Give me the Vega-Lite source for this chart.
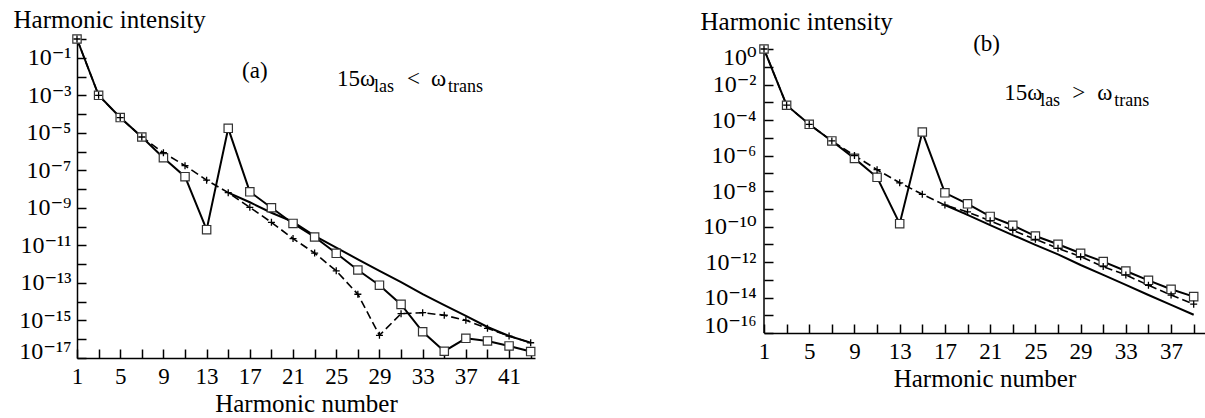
{
  "$schema": "https://vega.github.io/schema/vega-lite/v6.json",
  "padding": {"left": 13, "top": 7, "right": 0, "bottom": 0},
  "bounds": "flush",
  "spacing": 229,
  "datasets": {
    "a_sq": [
      {"n": 1, "v": 1.0}, {"n": 3, "v": 1.0e-3}, {"n": 5, "v": 6.5e-5}, {"n": 7, "v": 6.0e-6},
      {"n": 9, "v": 4.7e-7}, {"n": 11, "v": 4.6e-8}, {"n": 13, "v": 6.9e-11}, {"n": 15, "v": 1.74e-5},
      {"n": 17, "v": 7.2e-9}, {"n": 19, "v": 1.02e-9}, {"n": 21, "v": 1.48e-10}, {"n": 23, "v": 2.8e-11},
      {"n": 25, "v": 3.8e-12}, {"n": 27, "v": 4.9e-13}, {"n": 29, "v": 7.6e-14}, {"n": 31, "v": 7.2e-15},
      {"n": 33, "v": 2.5e-16}, {"n": 35, "v": 2.3e-17}, {"n": 37, "v": 1.12e-16}, {"n": 39, "v": 8.1e-17},
      {"n": 41, "v": 4.4e-17}, {"n": 43, "v": 2.2e-17}
    ],
    "a_pl": [
      {"n": 1, "v": 1.0}, {"n": 3, "v": 1.0e-3}, {"n": 5, "v": 6.5e-5}, {"n": 7, "v": 6.0e-6},
      {"n": 9, "v": 8.7e-7}, {"n": 11, "v": 1.78e-7}, {"n": 13, "v": 3.0e-8}, {"n": 15, "v": 6.5e-9},
      {"n": 17, "v": 1.07e-9}, {"n": 19, "v": 1.7e-10}, {"n": 21, "v": 2.3e-11}, {"n": 23, "v": 3.9e-12},
      {"n": 25, "v": 4.4e-13}, {"n": 27, "v": 2.5e-14}, {"n": 29, "v": 1.62e-16}, {"n": 31, "v": 2.3e-15},
      {"n": 33, "v": 2.6e-15}, {"n": 35, "v": 1.9e-15}, {"n": 37, "v": 1.02e-15}, {"n": 39, "v": 3.8e-16},
      {"n": 41, "v": 1.48e-16}, {"n": 43, "v": 6.5e-17}
    ],
    "a_sm": [
      {"n": 15, "v": 6.5e-9}, {"n": 17, "v": 2.0e-9}, {"n": 19, "v": 5.5e-10}, {"n": 21, "v": 1.78e-10},
      {"n": 23, "v": 3.2e-11}, {"n": 25, "v": 7.6e-12}, {"n": 27, "v": 1.82e-12}, {"n": 29, "v": 4.4e-13},
      {"n": 31, "v": 1.12e-13}, {"n": 33, "v": 2.5e-14}, {"n": 35, "v": 6.6e-15}, {"n": 37, "v": 1.74e-15},
      {"n": 39, "v": 4.5e-16}, {"n": 41, "v": 1.48e-16}, {"n": 43, "v": 6.6e-17}
    ],
    "a_txt": [
      {"kind": "main", "t": "(a)", "n": 16.28, "v": 8.05e-3},
      {"kind": "main", "t": "15ω", "n": 25.07, "v": 3.13e-3},
      {"kind": "sub", "t": "las", "n": 28.5, "v": 1.5e-3},
      {"kind": "main", "t": "<", "n": 31.56, "v": 3.13e-3},
      {"kind": "main", "t": "ω", "n": 33.78, "v": 3.13e-3},
      {"kind": "sub", "t": "trans", "n": 35.35, "v": 1.5e-3}
    ],
    "b_sq": [
      {"n": 1, "v": 1.0}, {"n": 3, "v": 6.8e-4}, {"n": 5, "v": 5.7e-5}, {"n": 7, "v": 6.6e-6},
      {"n": 9, "v": 6.9e-7}, {"n": 11, "v": 5.9e-8}, {"n": 13, "v": 1.44e-10}, {"n": 15, "v": 2.1e-5},
      {"n": 17, "v": 7.9e-9}, {"n": 19, "v": 1.9e-9}, {"n": 21, "v": 3.7e-10}, {"n": 23, "v": 1.17e-10},
      {"n": 25, "v": 2.9e-11}, {"n": 27, "v": 1.0e-11}, {"n": 29, "v": 3.1e-12}, {"n": 31, "v": 1.05e-12},
      {"n": 33, "v": 3.1e-13}, {"n": 35, "v": 9.3e-14}, {"n": 37, "v": 2.9e-14}, {"n": 39, "v": 1.12e-14}
    ],
    "b_pl": [
      {"n": 1, "v": 1.0}, {"n": 3, "v": 6.8e-4}, {"n": 5, "v": 5.7e-5}, {"n": 7, "v": 6.6e-6},
      {"n": 9, "v": 1.0e-6}, {"n": 11, "v": 1.58e-7}, {"n": 13, "v": 2.9e-8}, {"n": 15, "v": 6.5e-9},
      {"n": 17, "v": 1.62e-9}, {"n": 19, "v": 6.6e-10}, {"n": 21, "v": 2.1e-10}, {"n": 23, "v": 6.1e-11},
      {"n": 25, "v": 1.9e-11}, {"n": 27, "v": 5.9e-12}, {"n": 29, "v": 2.0e-12}, {"n": 31, "v": 5.5e-13},
      {"n": 33, "v": 1.86e-13}, {"n": 35, "v": 4.9e-14}, {"n": 37, "v": 1.38e-14}, {"n": 39, "v": 4.2e-15}
    ],
    "b_sm": [
      {"n": 17, "v": 1.62e-9}, {"n": 19, "v": 4.5e-10}, {"n": 21, "v": 1.2e-10}, {"n": 23, "v": 3.3e-11},
      {"n": 25, "v": 9.3e-12}, {"n": 27, "v": 2.7e-12}, {"n": 29, "v": 6.8e-13}, {"n": 31, "v": 1.9e-13},
      {"n": 33, "v": 5.2e-14}, {"n": 35, "v": 1.38e-14}, {"n": 37, "v": 3.8e-15}, {"n": 39, "v": 1.07e-15}
    ],
    "b_txt": [
      {"kind": "main", "t": "(b)", "n": 19.5, "v": 0.77},
      {"kind": "main", "t": "15ω", "n": 22.24, "v": 1.29e-3},
      {"kind": "sub", "t": "las", "n": 25.42, "v": 6.2e-4},
      {"kind": "main", "t": ">", "n": 28.26, "v": 1.29e-3},
      {"kind": "main", "t": "ω", "n": 30.47, "v": 1.29e-3},
      {"kind": "sub", "t": "trans", "n": 31.97, "v": 6.2e-4}
    ],
    "b_axis": [
      {"n": 1, "v": 1.0, "v2": 1e-16}
    ]
  },
  "hconcat": [
    {
      "width": 458,
      "height": 319,
      "encoding": {
        "x": {
          "field": "n", "type": "quantitative",
          "scale": {"domain": [1, 43.4], "nice": false, "zero": false},
          "axis": {
            "values": [1,3,5,7,9,11,13,15,17,19,21,23,25,27,29,31,33,35,37,39,41,43],
            "labelExpr": "(datum.value - 1) % 4 == 0 ? datum.label : ''",
            "labelPadding": 16, "labelFlush": false, "labelOverlap": false,
            "title": "Harmonic number", "titleY": 53, "titleBaseline": "alphabetic"
          }
        },
        "y": {
          "field": "v", "type": "quantitative",
          "scale": {"type": "log", "domain": [1e-17, 1], "nice": false},
          "axis": {
            "values": [1,1e-1,1e-2,1e-3,1e-4,1e-5,1e-6,1e-7,1e-8,1e-9,1e-10,1e-11,1e-12,1e-13,1e-14,1e-15,1e-16,1e-17],
            "labelExpr": "abs(round(log(datum.value)/LN10)) % 2 == 1 ? '10' + (datum.value < 0.5 ? '⁻' : '') + (abs(round(log(datum.value)/LN10)) >= 10 ? '¹' : '') + substring('⁰¹²³⁴⁵⁶⁷⁸⁹', abs(round(log(datum.value)/LN10)) % 10, abs(round(log(datum.value)/LN10)) % 10 + 1) : ''",
            "labelPadding": 15, "labelFlush": false, "labelOverlap": false,
            "labelFontSize": 24,
            "labelOffset": {"condition": {"test": "datum.value < 3e-17", "value": -7}, "value": 0},
            "title": "Harmonic intensity", "titleAngle": 0, "titleAlign": "left", "titleBaseline": "alphabetic",
            "titleX": -64, "titleY": -12
          }
        }
      },
      "layer": [
        {"data": {"name": "a_sm"}, "mark": {"type": "line", "color": "black", "strokeWidth": 2}},
        {"data": {"name": "a_pl"}, "mark": {"type": "line", "color": "black", "strokeWidth": 1.6, "strokeDash": [8, 4]}},
        {"data": {"name": "a_sq"}, "mark": {"type": "line", "color": "black", "strokeWidth": 2}},
        {"data": {"name": "a_sq"}, "mark": {"type": "point", "shape": "square", "size": 70, "filled": true, "fill": "white", "stroke": "#333333", "strokeWidth": 1.2, "opacity": 1}},
        {"data": {"name": "a_pl"}, "mark": {"type": "point", "shape": "M-1,0H1M0,-1V1", "size": 49, "filled": false, "stroke": "black", "strokeWidth": 1.3, "opacity": 1}},
        {"data": {"name": "a_txt"}, "transform": [{"filter": "datum.kind == 'main'"}],
         "mark": {"type": "text", "align": "left", "baseline": "alphabetic", "font": "Liberation Serif", "fontSize": 23, "color": "black"},
         "encoding": {"text": {"field": "t"}}},
        {"data": {"name": "a_txt"}, "transform": [{"filter": "datum.kind == 'sub'"}],
         "mark": {"type": "text", "align": "left", "baseline": "alphabetic", "font": "Liberation Serif", "fontSize": 18, "color": "black"},
         "encoding": {"text": {"field": "t"}}}
      ]
    },
    {
      "width": 441,
      "height": 294,
      "encoding": {
        "x": {
          "field": "n", "type": "quantitative",
          "scale": {"domain": [1, 40], "nice": false, "zero": false},
          "axis": {
            "values": [1,3,5,7,9,11,13,15,17,19,21,23,25,27,29,31,33,35,37,39],
            "labelExpr": "(datum.value - 1) % 4 == 0 ? datum.label : ''",
            "labelPadding": 16, "labelFlush": false, "labelOverlap": false,
            "title": "Harmonic number", "titleY": 53, "titleBaseline": "alphabetic"
          }
        },
        "y": {
          "field": "v", "type": "quantitative",
          "scale": {"type": "log", "domain": [1e-16, 3.66], "nice": false},
          "axis": {
            "domain": false,
            "values": [1,1e-1,1e-2,1e-3,1e-4,1e-5,1e-6,1e-7,1e-8,1e-9,1e-10,1e-11,1e-12,1e-13,1e-14,1e-15,1e-16],
            "labelExpr": "abs(round(log(datum.value)/LN10)) % 2 == 0 ? '10' + (datum.value < 0.5 ? '⁻' : '') + (abs(round(log(datum.value)/LN10)) >= 10 ? '¹' : '') + substring('⁰¹²³⁴⁵⁶⁷⁸⁹', abs(round(log(datum.value)/LN10)) % 10, abs(round(log(datum.value)/LN10)) % 10 + 1) : ''",
            "labelPadding": 17, "labelFlush": false, "labelOverlap": false,
            "labelFontSize": 24,
            "labelOffset": {"condition": [{"test": "datum.value < 3e-16", "value": -8}, {"test": "datum.value > 0.5", "value": 8}], "value": 0},
            "title": "Harmonic intensity", "titleAngle": 0, "titleAlign": "left", "titleBaseline": "alphabetic",
            "titleX": -64, "titleY": -10
          }
        }
      },
      "layer": [
        {"data": {"name": "b_axis"}, "mark": {"type": "rule", "color": "black", "strokeWidth": 1.5}, "encoding": {"y2": {"field": "v2"}}},
        {"data": {"name": "b_sm"}, "mark": {"type": "line", "color": "black", "strokeWidth": 2}},
        {"data": {"name": "b_pl"}, "mark": {"type": "line", "color": "black", "strokeWidth": 1.6, "strokeDash": [8, 4]}},
        {"data": {"name": "b_sq"}, "mark": {"type": "line", "color": "black", "strokeWidth": 2}},
        {"data": {"name": "b_sq"}, "mark": {"type": "point", "shape": "square", "size": 70, "filled": true, "fill": "white", "stroke": "#333333", "strokeWidth": 1.2, "opacity": 1}},
        {"data": {"name": "b_pl"}, "mark": {"type": "point", "shape": "M-1,0H1M0,-1V1", "size": 49, "filled": false, "stroke": "black", "strokeWidth": 1.3, "opacity": 1}},
        {"data": {"name": "b_txt"}, "transform": [{"filter": "datum.kind == 'main'"}],
         "mark": {"type": "text", "align": "left", "baseline": "alphabetic", "font": "Liberation Serif", "fontSize": 23, "color": "black"},
         "encoding": {"text": {"field": "t"}}},
        {"data": {"name": "b_txt"}, "transform": [{"filter": "datum.kind == 'sub'"}],
         "mark": {"type": "text", "align": "left", "baseline": "alphabetic", "font": "Liberation Serif", "fontSize": 18, "color": "black"},
         "encoding": {"text": {"field": "t"}}}
      ]
    }
  ],
  "config": {
    "view": {"stroke": null},
    "font": "Liberation Serif",
    "axis": {
      "grid": false,
      "domainColor": "black", "domainWidth": 1.5,
      "tickColor": "black", "tickWidth": 1.5, "tickSize": -9,
      "labelColor": "black", "labelFont": "Liberation Serif, DejaVu Serif", "labelFontSize": 23,
      "titleColor": "black", "titleFont": "Liberation Serif", "titleFontSize": 25, "titleFontWeight": "normal"
    }
  }
}
